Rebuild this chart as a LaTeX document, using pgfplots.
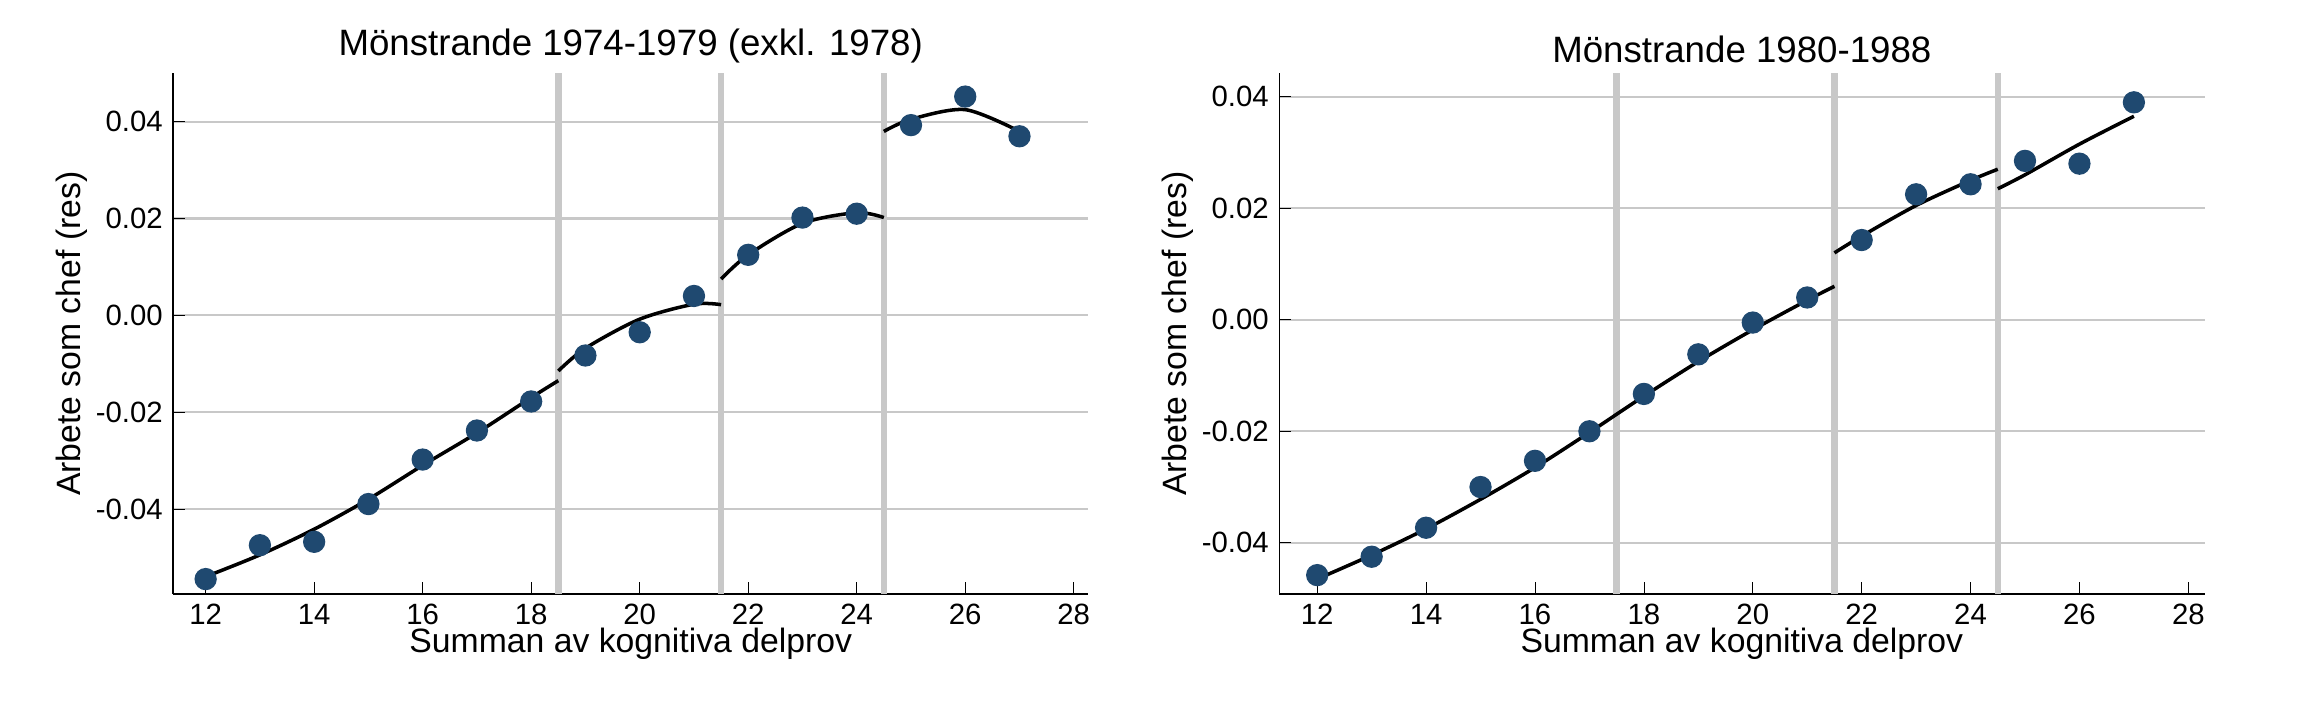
\documentclass[border=0pt]{standalone}
\usepackage{pgfplots}
\pgfplotsset{compat=1.18}
\usepackage{fontspec}
\setmainfont{Liberation Sans}
\definecolor{dot}{RGB}{31,73,112}
\definecolor{gl}{RGB}{200,200,200}
\pgfplotsset{
  myax/.style={scale only axis, height=177.5pt,
    axis x line*=bottom, axis y line*=left,
    xtick={12,14,...,28}, ymajorgrids, grid style={gl,line width=0.8pt},
    tick style={black}, major tick length=4pt,
    tick label style={font=\fontsize{10}{12}\selectfont},
    label style={font=\fontsize{11.5}{13}\selectfont},
    title style={font=\fontsize{12.5}{14}\selectfont, yshift=-6pt},
    /pgf/number format/assume math mode=true,
    yticklabel style={/pgf/number format/fixed,/pgf/number format/fixed zerofill,/pgf/number format/precision=2},
    scaled y ticks=false,
    xlabel={Summan av kognitiva delprov}, ylabel={Arbete som chef (res)},
    xlabel style={yshift=6pt}, ylabel style={yshift=-4pt},
    clip=false},
  vl/.style={gl, line width=2.2pt, forget plot},
  fit/.style={black, line width=1.2pt, smooth, no marks},
  pts/.style={only marks, mark=*, mark size=3.6pt, mark options={fill=dot,draw=dot}},
}
\begin{document}
\begin{tikzpicture}
\path (-59pt,-45pt) rectangle (725pt,202.5pt);
\begin{axis}[myax, width=312pt, xmin=11.4, xmax=28.27, ymin=-0.0576, ymax=0.05,
  ytick={-0.04,-0.02,0,0.02,0.04}, title={Mönstrande 1974-1979 (exkl. 1978)}]
\addplot[vl] coordinates {(18.5,-0.0576) (18.5,0.05)};
\addplot[vl] coordinates {(21.5,-0.0576) (21.5,0.05)};
\addplot[vl] coordinates {(24.5,-0.0576) (24.5,0.05)};
\addplot[fit] coordinates {(12,-0.054) (13,-0.0495) (14,-0.0442) (15,-0.038) (16,-0.031) (17,-0.0243) (18,-0.017) (18.5,-0.0135)};
\addplot[fit] coordinates {(18.5,-0.0115) (19,-0.0068) (20,-0.0008) (21,0.0023) (21.5,0.0022)};
\addplot[fit] coordinates {(21.5,0.0075) (22,0.0125) (23,0.019) (24,0.0212) (24.5,0.0202)};
\addplot[fit] coordinates {(24.5,0.038) (25,0.0405) (26,0.0425) (27,0.038)};
\addplot[pts] coordinates {(12,-0.0545) (13,-0.0475) (14,-0.0468) (15,-0.039) (16,-0.0298) (17,-0.0238) (18,-0.0178) (19,-0.0083) (20,-0.0035) (21,0.004) (22,0.0125) (23,0.0202) (24,0.021) (25,0.0393) (26,0.0452) (27,0.037)};
\end{axis}
\begin{axis}[myax, at={(377pt,0pt)}, width=315.5pt, xmin=11.3, xmax=28.3, ymin=-0.0492, ymax=0.0442,
  ytick={-0.04,-0.02,0,0.02,0.04}, title={Mönstrande 1980-1988}]
\addplot[vl] coordinates {(17.5,-0.0492) (17.5,0.0442)};
\addplot[vl] coordinates {(21.5,-0.0492) (21.5,0.0442)};
\addplot[vl] coordinates {(24.5,-0.0492) (24.5,0.0442)};
\addplot[fit] coordinates {(12,-0.0465) (13,-0.0422) (14,-0.0375) (15,-0.0322) (16,-0.0265) (17,-0.0202) (18,-0.0137) (19,-0.0075) (20,-0.0018) (21,0.0035) (21.5,0.006)};
\addplot[fit] coordinates {(21.5,0.012) (22,0.015) (23,0.0205) (24,0.025) (24.5,0.027)};
\addplot[fit] coordinates {(24.5,0.0235) (25,0.026) (26,0.0315) (27,0.0365)};
\addplot[pts] coordinates {(12,-0.0458) (13,-0.0425) (14,-0.0373) (15,-0.030) (16,-0.0253) (17,-0.020) (18,-0.0133) (19,-0.0062) (20,-0.0005) (21,0.004) (22,0.0143) (23,0.0225) (24,0.0243) (25,0.0285) (26,0.028) (27,0.039)};
\end{axis}
\end{tikzpicture}
\end{document}
